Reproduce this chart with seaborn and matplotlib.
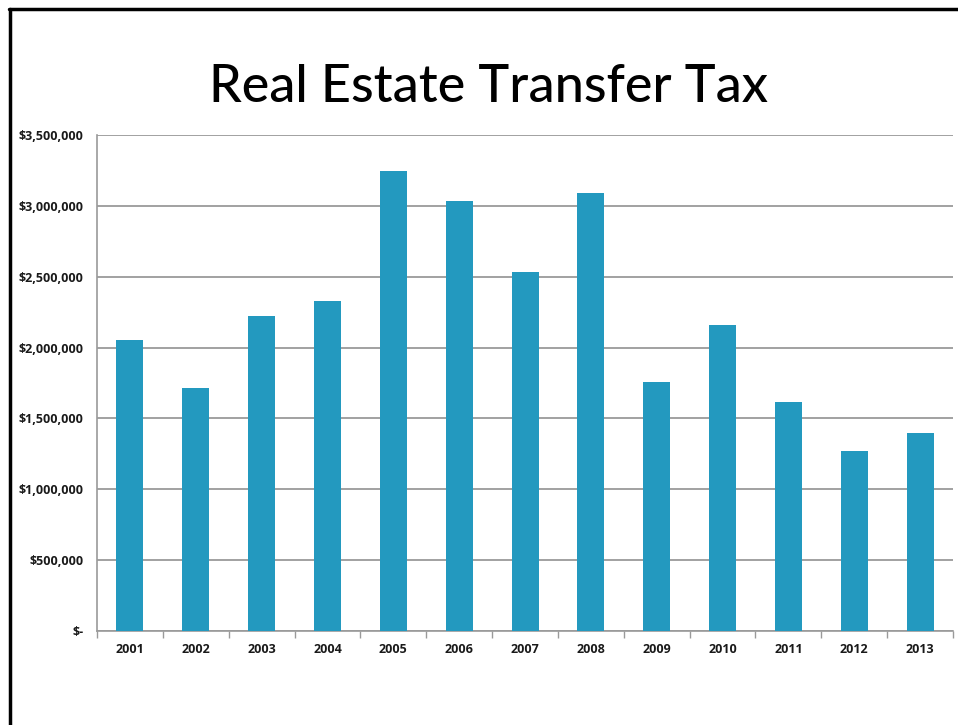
import matplotlib
matplotlib.use("Agg")
import matplotlib.pyplot as plt
from matplotlib.lines import Line2D
from matplotlib.ticker import FuncFormatter, FixedLocator
import seaborn as sns
import pandas as pd

years = ["2001", "2002", "2003", "2004", "2005", "2006", "2007",
         "2008", "2009", "2010", "2011", "2012", "2013"]
revenue = [2056000, 1713000, 2221000, 2331000, 3249000, 3035000, 2536000,
           3089000, 1759000, 2160000, 1618000, 1272000, 1399000]
y_ticks = [0, 500000, 1000000, 1500000, 2000000, 2500000, 3000000, 3500000]

df = pd.DataFrame({"year": years, "revenue": revenue})

sns.set_theme(style="white")
plt.rcParams["font.family"] = ["Open Sans", "DejaVu Sans"]

fig = plt.figure(figsize=(9.58, 7.25), dpi=100)
ax = fig.add_axes([0.1013, 0.1297, 0.8935, 0.6841])

sns.barplot(data=df, x="year", y="revenue", color="#2399bf", saturation=1,
            width=0.41, ax=ax, zorder=3, linewidth=0)

ax.set_xlim(-0.5, len(years) - 0.5)
ax.set_ylim(0, 3500000)
ax.set_yticks(y_ticks)


def money(v, _):
    return "$-" if v == 0 else f"${v:,.0f}"


ax.yaxis.set_major_formatter(FuncFormatter(money))
ax.grid(axis="y", color="#9a9a9a", linewidth=1.3, zorder=0)
ax.set_axisbelow(True)

for side in ("top", "right"):
    ax.spines[side].set_visible(False)
for side in ("left", "bottom"):
    ax.spines[side].set_color("#9a9a9a")
    ax.spines[side].set_linewidth(1.2)

ax.tick_params(axis="y", which="major", length=4, width=1, color="#9a9a9a",
               direction="out", pad=6, labelsize=9, labelcolor="#1a1a1a")
ax.tick_params(axis="x", which="major", length=0, pad=9, labelsize=9,
               labelcolor="#1a1a1a")
ax.xaxis.set_minor_locator(FixedLocator([i + 0.5 for i in range(-1, len(years))]))
ax.tick_params(axis="x", which="minor", length=5, width=1, color="#9a9a9a",
               direction="out", bottom=True)
for lab in ax.get_xticklabels() + ax.get_yticklabels():
    lab.set_fontweight("bold")

ax.set_xlabel("")
ax.set_ylabel("")

fig.text(0.510, 0.880, "Real Estate Transfer Tax", ha="center", va="center",
         fontsize=37.5, color="#000000", family=["Lato", "DejaVu Sans"],
         fontweight="medium")

# slide frame along the top and left edges
fig.add_artist(Line2D([0.009, 1.0], [0.988, 0.988], color="black", linewidth=2.5,
                      transform=fig.transFigure))
fig.add_artist(Line2D([0.010, 0.010], [0.0, 0.988], color="black", linewidth=2.5,
                      transform=fig.transFigure))

fig.savefig("out.png", dpi=100, facecolor="white")
